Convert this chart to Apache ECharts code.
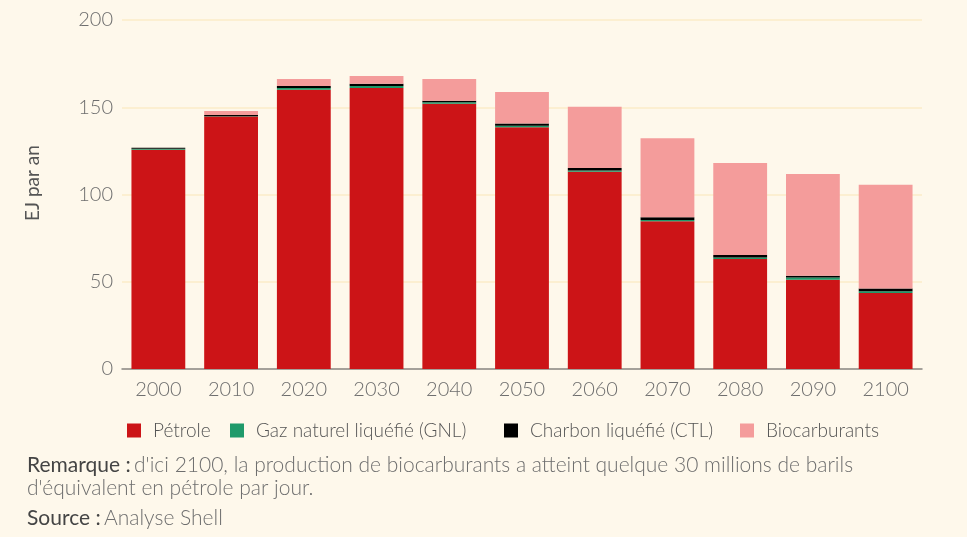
<!DOCTYPE html>
<html>
<head>
<meta charset="utf-8">
<script src="https://cdn.jsdelivr.net/npm/echarts@6/dist/echarts.min.js"></script>
<style>
  html, body { margin: 0; padding: 0; background: #fef8eb; }
  #chart { width: 967px; height: 537px; }
</style>
</head>
<body>
<div id="chart"></div>
<script>
// données (EJ par an)
const years = ['2000', '2010', '2020', '2030', '2040', '2050', '2060', '2070', '2080', '2090', '2100']
const petrole = [125.6, 144.7, 160.0, 161.1, 152.0, 138.6, 113.0, 84.7, 63.1, 51.2, 43.5]
const gnl = [0.6, 0.2, 1.1, 1.1, 0.8, 0.8, 0.7, 0.7, 0.8, 1.2, 1.1]
const ctl = [0.6, 0.6, 1.1, 1.2, 0.9, 1.3, 1.5, 1.5, 1.5, 1.1, 1.5]
const bio = [0, 2.3, 4.0, 4.5, 12.5, 18.1, 35.1, 45.3, 52.7, 58.3, 59.5]
const yTicks = [0, 50, 100, 150, 200]
const seriesNames = ['Pétrole', 'Gaz naturel liquéfié (GNL)', 'Charbon liquéfié (CTL)', 'Biocarburants']

const font = 'Lato, "Noto Sans", sans-serif'
const grey = '#6e6e6e'

const chart = echarts.init(document.getElementById('chart'))

const bar = (name, data, color) => ({
  name,
  type: 'bar',
  stack: 'total',
  data,
  barCategoryGap: '26%',
  itemStyle: { color },
  emphasis: { disabled: true }
})

// une légende par entrée pour caler les positions comme sur l'original
const legendLeft = [127, 230, 504, 740]
const legends = seriesNames.map((name, i) => ({
  left: legendLeft[i],
  top: 421,
  padding: 0,
  icon: 'rect',
  itemWidth: 14,
  itemHeight: 14,
  textStyle: { fontFamily: font, fontWeight: 300, fontSize: 19, color: '#555', padding: [0, 0, 0, 7] },
  data: [name]
}))

chart.setOption({
  backgroundColor: '#fef8eb',
  animation: false,
  grid: { left: 122, right: 45, top: 20, bottom: 168 },
  legend: legends,
  xAxis: {
    type: 'category',
    data: years,
    axisTick: { show: false },
    axisLine: { lineStyle: { color: '#888', width: 1.5 } },
    axisLabel: { margin: 11, fontFamily: font, fontWeight: 300, fontSize: 20, color: grey }
  },
  yAxis: {
    type: 'value',
    min: yTicks[0],
    max: yTicks[yTicks.length - 1],
    interval: 50,
    axisLine: { show: false },
    axisTick: { show: false },
    axisLabel: { margin: 9, fontFamily: font, fontWeight: 300, fontSize: 20, color: grey },
    splitLine: { lineStyle: { color: '#fbecc8', width: 1.5 } }
  },
  series: [
    bar(seriesNames[0], petrole, '#cc1417'),
    bar(seriesNames[1], gnl, '#1f9a6a'),
    bar(seriesNames[2], ctl, '#000000'),
    bar(seriesNames[3], bio, '#f49c9b')
  ],
  graphic: [
    {
      type: 'text',
      x: 33,
      y: 183,
      rotation: Math.PI / 2,
      style: {
        text: 'EJ par an',
        fontFamily: font,
        fontSize: 19,
        fill: '#555',
        align: 'center',
        verticalAlign: 'middle'
      }
    },
    {
      type: 'text',
      left: 27,
      top: 454,
      style: {
        text: '{b|Remarque :} {n|d\'ici 2100, la production de biocarburants a atteint quelque 30 millions de barils}\n{n|d\'équivalent en pétrole par jour.}',
        lineHeight: 23,
        rich: {
          b: { fontFamily: font, fontSize: 21, fill: '#444', lineHeight: 23 },
          n: { fontFamily: font, fontWeight: 300, fontSize: 21, fill: grey, lineHeight: 23 }
        }
      }
    },
    {
      type: 'text',
      left: 27,
      top: 508,
      style: {
        text: '{b|Source :} {n|Analyse Shell}',
        rich: {
          b: { fontFamily: font, fontSize: 21, fill: '#444' },
          n: { fontFamily: font, fontWeight: 300, fontSize: 21, fill: grey }
        }
      }
    }
  ]
})

window.addEventListener('resize', () => chart.resize())
</script>
</body>
</html>
